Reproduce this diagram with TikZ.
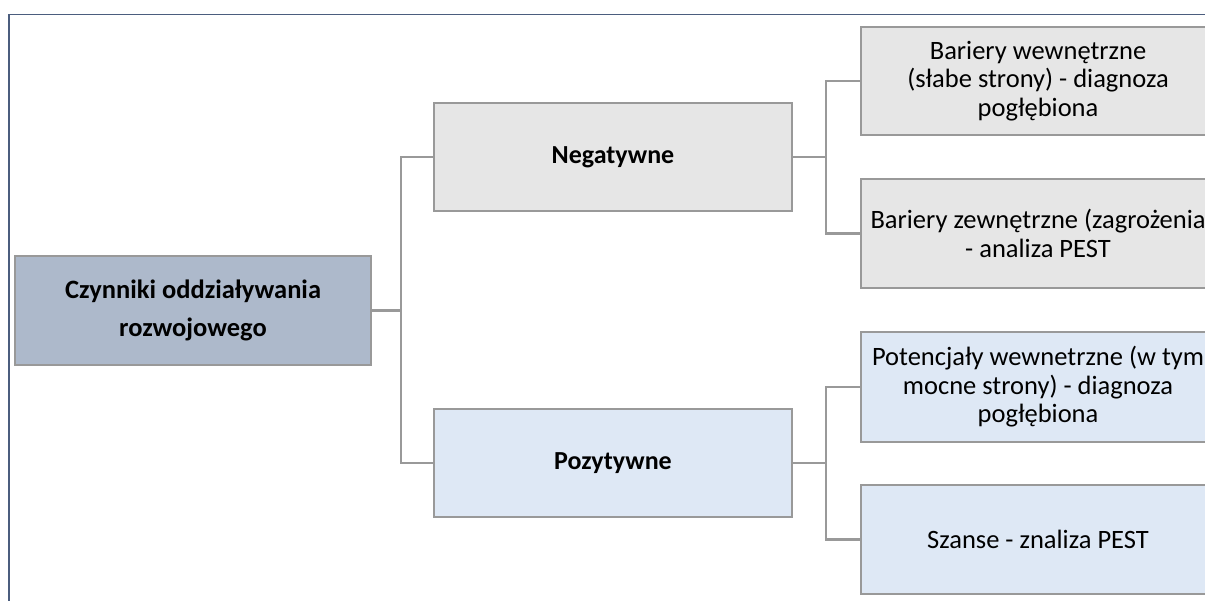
\documentclass[tikz,border=0pt]{standalone}
\usepackage{fontspec}
\setmainfont{Carlito}
\definecolor{framec}{HTML}{4B5D7E}
\definecolor{edgec}{HTML}{999999}
\definecolor{greyfill}{HTML}{E6E6E6}
\definecolor{bluefill}{HTML}{DEE8F5}
\definecolor{rootfill}{HTML}{ADB9CB}
\tikzset{
  box/.style={draw=edgec, line width=2.5pt, align=center, inner sep=0pt,
    minimum height=108pt, font=\fontsize{26.5}{28.5}\selectfont},
  midbox/.style={box, minimum width=358pt, font=\bfseries\fontsize{26}{38}\selectfont},
  leafbox/.style={box, minimum width=354pt},
  link/.style={draw=edgec, line width=2.5pt},
  frameline/.style={draw=framec}
}
\begin{document}
\begin{tikzpicture}[x=1pt,y=-1pt]
\useasboundingbox (0,0) rectangle (1205,601);
\clip (0,0) rectangle (1205,601);
\fill[white] (0,0) rectangle (1205,601);
% frame
\coordinate (ftl) at (9,14.5);
\coordinate (ftr) at (1206,14.5);
\coordinate (fbl) at (9,602);
\draw[frameline, line width=1.3pt] (8,14.5) -- (ftr);
\draw[frameline, line width=2pt] (ftl) -- (fbl);
% nodes
\node[box, fill=rootfill, minimum width=356pt, minimum height=109pt,
      font=\bfseries\fontsize{26.5}{38}\selectfont] (root) at (193,310.5)
      {Czynniki oddziaływania\\rozwojowego};
\node[midbox, fill=greyfill] (neg) at (613,157) {Negatywne};
\node[midbox, fill=bluefill] (poz) at (613,463) {Pozytywne};
\node[leafbox, fill=greyfill] (b1) at (1038,81) {Bariery wewnętrzne\\(słabe strony) - diagnoza\\pogłębiona};
\node[leafbox, fill=greyfill, minimum height=109pt] (b2) at (1038,233.5) {Bariery zewnętrzne (zagrożenia\\- analiza PEST};
\node[leafbox, fill=bluefill, minimum height=110pt] (b3) at (1038,387) {Potencjały wewnetrzne (w tym\\mocne strony) - diagnoza\\pogłębiona};
\node[leafbox, fill=bluefill, minimum height=109pt] (b4) at (1038,539.5) {Szanse - znaliza PEST};
% connectors
\coordinate (j1) at (401,310.5);
\coordinate (j2) at (826,157);
\coordinate (j3) at (826,463);
\draw[link] (root.east) -- (j1);
\draw[link] (j1) |- (neg.west);
\draw[link] (j1) |- (poz.west);
\draw[link] (neg.east) -- (j2);
\draw[link] (j2) |- (b1.west);
\draw[link] (j2) |- (b2.west);
\draw[link] (poz.east) -- (j3);
\draw[link] (j3) |- (b3.west);
\draw[link] (j3) |- (b4.west);
\end{tikzpicture}
\end{document}
